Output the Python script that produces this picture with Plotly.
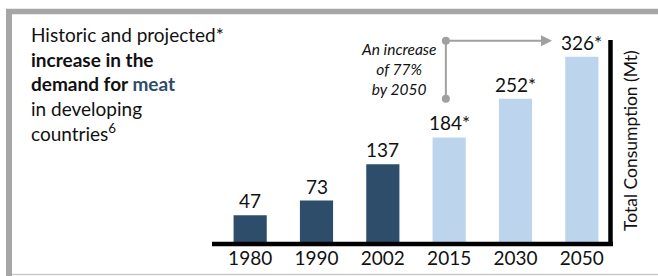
import plotly.graph_objects as go

years = ["1980", "1990", "2002", "2015", "2030", "2050"]
values = [47, 73, 137, 184, 252, 326]
labels = ["47", "73", "137", "184*", "252*", "326*"]
projected = [False, False, False, True, True, True]

DARK = "#2e4d6b"
LIGHT = "#bdd5ec"
GRAY = "#a0a0a0"
FONT = "Lato"

W, H = 658, 276
L, R, T, B = 217, 43, 30, 34
PW, PH = W - L - R, H - T - B


def px(x):
    return (x - L) / PW


def py(y):
    return (H - B - y) / PH


fig = go.Figure()
fig.add_trace(go.Bar(
    x=years, y=values,
    marker=dict(color=[LIGHT if p else DARK for p in projected], line=dict(width=0)),
    width=0.5, hoverinfo="skip",
))

for i, (v, lab) in enumerate(zip(values, labels)):
    fig.add_annotation(x=i, y=v, xref="x", yref="y", text=lab, showarrow=False,
                       yanchor="bottom", yshift=1,
                       font=dict(family=FONT, size=19, color="#111111"))

# title block
fig.add_annotation(
    xref="paper", yref="paper", x=px(29), y=py(21), xanchor="left", yanchor="top",
    align="left", showarrow=False,
    text=("Historic and projected*<br><b>increase in the</b><br><b>demand for "
          f"<span style='color:{DARK}'>meat</span></b><br>in developing<br>countries<sup>6</sup>"),
    font=dict(family=FONT, size=19, color="#111111"),
)

# increase note
fig.add_annotation(
    xref="paper", yref="paper", x=px(398), y=py(69), xanchor="center", yanchor="middle",
    align="center", showarrow=False,
    text="<i>An increase<br>of 77%<br>by 2050</i>",
    font=dict(family=FONT, size=15.5, color="#111111"),
)

# y-axis title
fig.add_annotation(
    xref="paper", yref="paper", x=px(630), y=py(141), xanchor="center", yanchor="middle",
    textangle=-90, showarrow=False, text="Total Consumption (Mt)",
    font=dict(family=FONT, size=17.5, color="#111111"),
)

# connector
xc = 2.95
fig.add_shape(type="line", xref="x", yref="y", x0=xc, x1=xc, y0=252, y1=354,
              line=dict(color=GRAY, width=2))
fig.add_annotation(x=4.55, y=354, ax=xc, ay=354, axref="x", ayref="y", xref="x", yref="y",
                   text="", showarrow=True, arrowhead=2, arrowsize=1.1, arrowwidth=2,
                   arrowcolor=GRAY)
for yy in (252, 354):
    fig.add_shape(type="circle", xref="x", yref="y", xsizemode="pixel", ysizemode="pixel",
                  xanchor=xc, yanchor=yy, x0=-4, x1=4, y0=-4, y1=4,
                  fillcolor=GRAY, line=dict(width=0))

# axis lines
fig.add_shape(type="line", xref="paper", yref="paper", x0=px(212), x1=px(613),
              y0=py(244), y1=py(244), line=dict(color="black", width=4.5))
fig.add_shape(type="line", xref="paper", yref="paper", x0=px(610.5), x1=px(610.5),
              y0=py(40), y1=py(246), line=dict(color="black", width=4.5))

# frame
fig.add_shape(type="line", xref="paper", yref="paper", x0=px(6), x1=px(660),
              y0=py(11.5), y1=py(11.5), line=dict(color="#a6a6a6", width=5.5))
fig.add_shape(type="line", xref="paper", yref="paper", x0=px(9), x1=px(9),
              y0=py(9), y1=py(280), line=dict(color="#a6a6a6", width=6))
fig.add_shape(type="line", xref="paper", yref="paper", x0=px(12), x1=px(660),
              y0=py(274.5), y1=py(274.5), line=dict(color="#cccccc", width=1.5))

fig.update_layout(
    width=W, height=H, margin=dict(l=L, r=R, t=T, b=B, autoexpand=False),
    paper_bgcolor="white", plot_bgcolor="white", showlegend=False,
    xaxis=dict(type="category", range=[-0.5, 5.5], showgrid=False, showline=False,
               automargin=False, ticks="",
               tickfont=dict(family=FONT, size=19, color="#111111"),
               ticklabelstandoff=3),
    yaxis=dict(range=[0, 373], visible=False, showgrid=False, zeroline=False,
               automargin=False),
)

fig.write_html("out.html", config={"displayModeBar": False},
               post_script="document.body.style.margin='0px';document.body.style.overflow='hidden';")
